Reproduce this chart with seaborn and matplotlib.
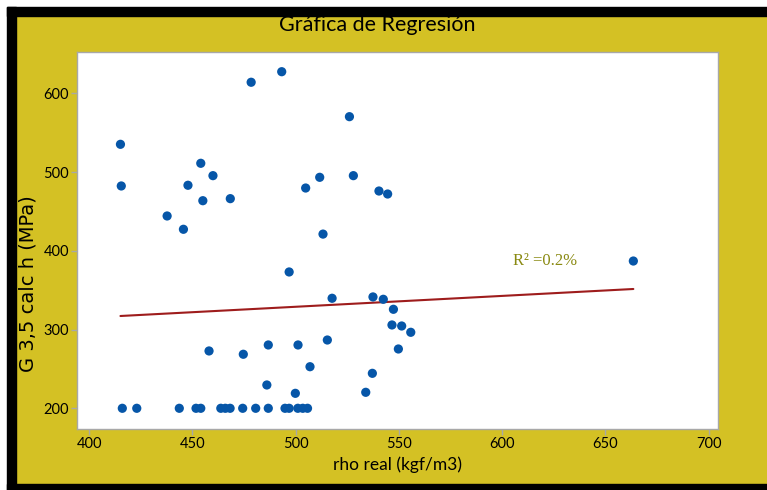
import numpy as np
import pandas as pd
import seaborn as sns
import matplotlib.pyplot as plt
from matplotlib.patches import Rectangle

# Measured density vs. calculated G 3,5 stiffness
rho_real = [416.1, 423.1, 443.7, 451.8, 454.1, 463.8, 466.0, 468.3, 474.4, 480.7,
            486.8, 494.9, 496.9, 501.1, 503.5, 505.8,
            458.1, 474.7, 486.8, 501.2, 515.4, 507.0, 486.1, 499.9, 549.8, 537.2,
            534.0, 493.3, 478.5, 526.1, 415.2, 454.1, 460.0, 415.6, 447.9, 455.1,
            468.4, 504.9, 511.7, 528.0, 540.4, 544.6, 437.8, 445.7, 513.3, 496.9,
            517.7, 537.5, 542.5, 547.4, 546.7, 551.4, 555.8, 663.6]
g_calc = [200, 200, 200, 200, 200, 200, 200, 200, 200, 200,
          200, 200, 200, 200, 200, 200,
          272.8, 268.6, 280.4, 280.4, 286.7, 252.8, 229.6, 219.0, 275.3, 244.4,
          220.3, 627.4, 614.0, 570.3, 535.2, 511.1, 495.4, 482.3, 483.2, 463.6,
          466.2, 479.7, 493.3, 495.4, 475.9, 472.1, 444.2, 427.3, 421.2, 373.1,
          339.7, 341.4, 338.4, 325.7, 305.8, 304.5, 296.5, 387.0]

# Fitted regression line and its coefficient of determination
fit_intercept = 259.9
fit_slope = 0.138
r2_text = "R² =0.2%"

x_ticks = [400, 450, 500, 550, 600, 650, 700]
y_ticks = [200, 300, 400, 500, 600]

YELLOW = "#D4C124"
BLUE = "#0656A8"
RED = "#9E1C1C"
OLIVE = "#8A8A12"

sns.set_theme(style="white")
plt.rcParams['font.family'] = ['Lato', 'DejaVu Sans']

fig = plt.figure(figsize=(7.67, 4.9), dpi=100, facecolor=YELLOW)

# Frame around the panel: white margin, then a black band on top, left and bottom
W, H = 767, 490
for (x0, y0, w, h, c) in [
    (0, 0, 7, H, "white"), (0, H - 7, W, 7, "white"),
    (7, 0, 9, H - 7, "black"), (7, H - 16, W - 7, 9, "black"),
    (7, 0, W - 7, 6, "black"),
]:
    fig.patches.append(Rectangle((x0 / W, y0 / H), w / W, h / H,
                                 transform=fig.transFigure, color=c, zorder=0))

ax = fig.add_axes([77.3 / W, 1 - 429 / H, (718 - 77.3) / W, (429 - 51.7) / H])
ax.set_facecolor("white")

df = pd.DataFrame({"rho real (kgf/m3)": rho_real, "G 3,5 calc h (MPa)": g_calc})
sns.scatterplot(data=df, x="rho real (kgf/m3)", y="G 3,5 calc h (MPa)", ax=ax,
                color=BLUE, s=44, edgecolor="none", zorder=3)

line_x = np.array([min(rho_real), max(rho_real)])
line_df = pd.DataFrame({"x": line_x, "y": fit_intercept + fit_slope * line_x})
sns.lineplot(data=line_df, x="x", y="y", ax=ax, color=RED, linewidth=1.5, zorder=2)

ax.text(621, 387, r2_text, color=OLIVE, fontsize=12, ha="center", va="center",
        family=["Liberation Serif", "DejaVu Serif"])

ax.set_xlim(394.3, 704.6)
ax.set_ylim(173.7, 652.8)
ax.set_xticks(x_ticks)
ax.set_yticks(y_ticks)
ax.tick_params(axis="both", which="major", direction="out", length=4, width=1,
               color="#A8A8A8", labelsize=10.5, labelcolor="black", pad=2,
               bottom=True, left=True)
for s in ax.spines.values():
    s.set_color("#A8A8A8")
    s.set_linewidth(1)

ax.set_xlabel("rho real (kgf/m3)", fontsize=12.5, color="black")
ax.set_ylabel("G 3,5 calc h (MPa)", fontsize=14, color="black",
              family=["DejaVu Sans"])
ax.xaxis.set_label_coords(0.499, -0.0954)
ax.xaxis.label.set_va("center")
ax.yaxis.set_label_coords(-0.077, 0.385)
ax.yaxis.label.set_va("center")

fig.text(377 / W, 1 - 25 / H, "Gráfica de Regresión", fontsize=15.5,
         ha="center", va="center", color="black")

fig.savefig("out.png", dpi=100, facecolor=YELLOW)
